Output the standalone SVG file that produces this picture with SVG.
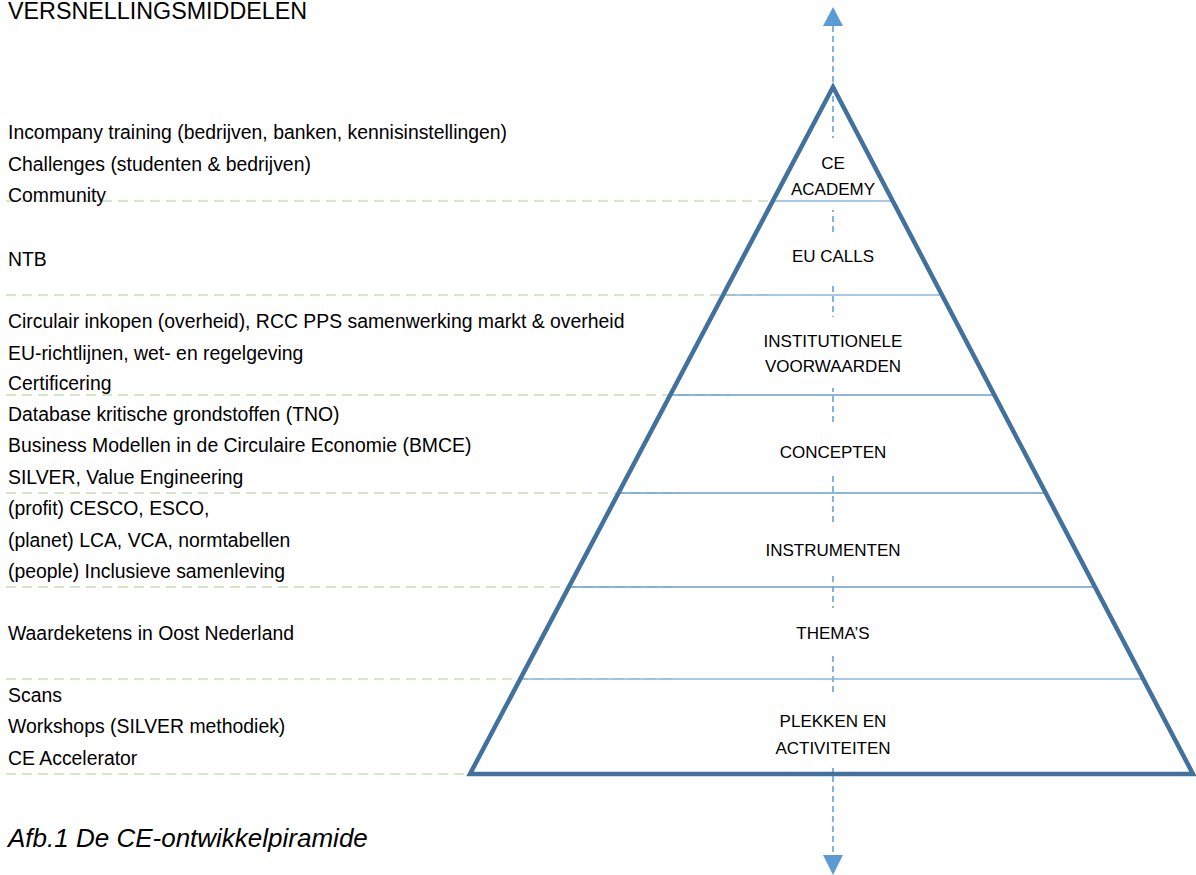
<svg xmlns="http://www.w3.org/2000/svg" width="1196" height="875" viewBox="0 0 1196 875">
  <style>
    .title { font-family: "Liberation Sans", Arial, sans-serif; font-size: 23.3px; fill: #000; }
    .item { font-family: "Liberation Sans", Arial, sans-serif; font-size: 19.4px; fill: #000; }
    .lbl { font-family: "Liberation Sans", Arial, sans-serif; font-size: 17px; fill: #000; text-anchor: middle; }
    .cap { font-family: "Liberation Sans", Arial, sans-serif; font-size: 26px; font-style: italic; fill: #000; }
    .guide { stroke: #C6E0B4; stroke-width: 1.5; stroke-dasharray: 10 6; fill: none; }
    .tier { stroke: #8DB5E0; stroke-width: 1.6; fill: none; }
    .tier2 { stroke: #6B9DD3; stroke-width: 1.6; fill: none; }
    .axis { stroke: #5B9BD5; stroke-width: 1.5; stroke-dasharray: 6 4; fill: none; }
    .mask { fill: #fff; stroke: none; }
    .outline { stroke: #41719C; stroke-width: 4.5; fill: none; stroke-linejoin: miter; }
    .head { fill: #5B9BD5; stroke: none; }
  </style>

  <text class="title" x="8" y="19">VERSNELLINGSMIDDELEN</text>

  <g id="guides">
    <line class="guide" x1="6" y1="201" x2="775" y2="201"/>
    <line class="guide" x1="6" y1="295" x2="775" y2="295"/>
    <line class="guide" x1="6" y1="395" x2="730" y2="395"/>
    <line class="guide" x1="6" y1="493" x2="680" y2="493"/>
    <line class="guide" x1="6" y1="587" x2="675" y2="587"/>
    <line class="guide" x1="6" y1="679" x2="673" y2="679"/>
    <line class="guide" x1="6" y1="774" x2="673" y2="774"/>
  </g>

  <g id="left-texts">
    <text class="item" x="8" y="139">Incompany training (bedrijven, banken, kennisinstellingen)</text>
    <text class="item" x="8" y="171">Challenges (studenten &amp; bedrijven)</text>
    <text class="item" x="8" y="202">Community</text>
    <text class="item" x="8" y="266">NTB</text>
    <text class="item" x="8" y="328">Circulair inkopen (overheid), RCC PPS samenwerking markt &amp; overheid</text>
    <text class="item" x="8" y="360">EU-richtlijnen, wet- en regelgeving</text>
    <text class="item" x="8" y="390">Certificering</text>
    <text class="item" x="8" y="421">Database kritische grondstoffen (TNO)</text>
    <text class="item" x="8" y="452">Business Modellen in de Circulaire Economie (BMCE)</text>
    <text class="item" x="8" y="484">SILVER, Value Engineering</text>
    <text class="item" x="8" y="515">(profit) CESCO, ESCO,</text>
    <text class="item" x="8" y="547">(planet) LCA, VCA, normtabellen</text>
    <text class="item" x="8" y="578">(people) Inclusieve samenleving</text>
    <text class="item" x="8" y="640">Waardeketens in Oost Nederland</text>
    <text class="item" x="8" y="702">Scans</text>
    <text class="item" x="8" y="733">Workshops (SILVER methodiek)</text>
    <text class="item" x="8" y="765">CE Accelerator</text>
  </g>

  <g id="connectors">
    <line class="axis" x1="833" y1="26" x2="833" y2="855"/>
    <polygon class="head" points="833,7 843,26 823,26"/>
    <polygon class="head" points="823,855 843,855 833,875"/>
  </g>

  <g id="tier-ce-academy">
    <rect class="mask" x="818" y="138" width="30" height="72"/>
    <text class="lbl" x="833" y="169">CE</text>
    <text class="lbl" x="833" y="195">ACADEMY</text>
  </g>
  <g id="tier-eu-calls">
    <rect class="mask" x="818" y="233" width="30" height="52"/>
    <text class="lbl" x="833" y="262">EU CALLS</text>
  </g>
  <g id="tier-institutionele-voorwaarden">
    <rect class="mask" x="818" y="317" width="30" height="71"/>
    <text class="lbl" x="833" y="347">INSTITUTIONELE</text>
    <text class="lbl" x="833" y="372">VOORWAARDEN</text>
  </g>
  <g id="tier-concepten">
    <rect class="mask" x="818" y="425" width="30" height="48"/>
    <text class="lbl" x="833" y="458">CONCEPTEN</text>
  </g>
  <g id="tier-instrumenten">
    <rect class="mask" x="818" y="523" width="30" height="49"/>
    <text class="lbl" x="833" y="556">INSTRUMENTEN</text>
  </g>
  <g id="tier-themas">
    <rect class="mask" x="818" y="608" width="30" height="47"/>
    <text class="lbl" x="833" y="639">THEMA’S</text>
  </g>
  <g id="tier-plekken-en-activiteiten">
    <rect class="mask" x="818" y="693" width="30" height="75"/>
    <text class="lbl" x="833" y="727">PLEKKEN EN</text>
    <text class="lbl" x="833" y="754">ACTIVITEITEN</text>
  </g>

  <g id="tier-lines">
    <line class="tier" x1="772.8" y1="201" x2="892.7" y2="201"/>
    <line class="tier" x1="723.2" y1="295" x2="942" y2="295"/>
    <line class="tier2" x1="670.4" y1="395" x2="994.4" y2="395"/>
    <line class="tier2" x1="618.6" y1="493" x2="1045.7" y2="493"/>
    <line class="tier2" x1="568.9" y1="587" x2="1095" y2="587"/>
    <line class="tier" x1="520.3" y1="679" x2="1143.2" y2="679"/>
  </g>

  <g id="pyramid">
    <polygon class="outline" points="833,87 1193,774 470,774"/>
  </g>

  <text class="cap" x="8" y="847">Afb.1 De CE-ontwikkelpiramide</text>
</svg>
